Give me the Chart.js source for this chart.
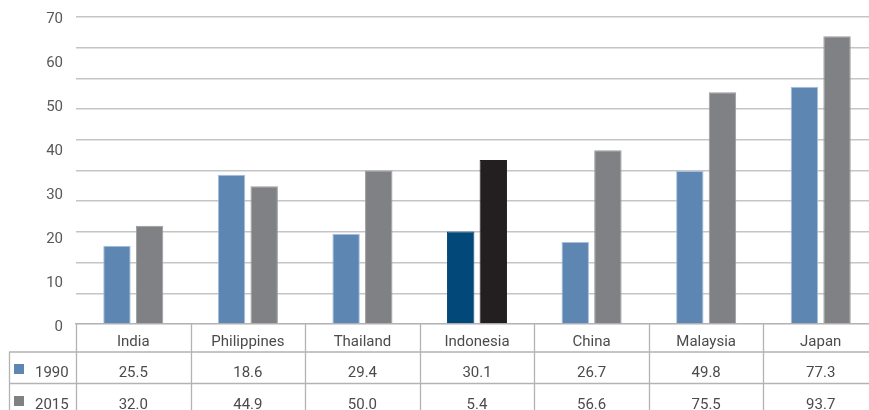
<!DOCTYPE html>
<html>
<head>
<meta charset="utf-8">
<title>1990 vs 2015</title>
<script src="https://cdn.jsdelivr.net/npm/chart.js@4.4.1/dist/chart.umd.min.js"></script>
<style>
  html, body { margin: 0; padding: 0; background: #fff; overflow: hidden; }
  .chart-wrap { position: relative; width: 880px; height: 410px; }
</style>
</head>
<body>
<div class="chart-wrap"><canvas id="countryChart"></canvas></div>
<script>
/* ============================================================
   Country comparison — grouped bars with a data table below
   ============================================================ */

const countries = ['India', 'Philippines', 'Thailand', 'Indonesia', 'China', 'Malaysia', 'Japan'];
const seriesNames = ['1990', '2015'];

// bar heights
const values1990 = [25.5, 48.6, 29.4, 30.1, 26.7, 49.8, 77.3];
const values2015 = [32.0, 44.9, 50.0, 53.4, 56.6, 75.5, 93.7];

// figures printed in the table rows
const table1990 = [25.5, 18.6, 29.4, 30.1, 26.7, 49.8, 77.3];
const table2015 = [32.0, 44.9, 50.0, 5.4, 56.6, 75.5, 93.7];

// left axis labels
const yTickLabels = [0, 10, 20, 30, 40, 50, 60, 70];

(function () {
  'use strict';

  const blue = '#5d86b3';
  const blueEdge = '#a6bfdb';
  const grey = '#808184';
  const greyEdge = '#9c9c9f';
  const navy = '#02497a';
  const black = '#231f20';
  const gridColor = '#c5c5c8';
  const lineColor = '#b3b3b6';
  const textColor = '#4b4b4d';
  const font = "Roboto, 'DejaVu Sans', sans-serif";
  const focus = countries.indexOf('Indonesia');

  const pick = (base, hi) => countries.map((c, i) => (i === focus ? hi : base));

  // data table under the x axis, aligned on the category scale
  const tablePlugin = {
    id: 'dataTable',
    afterDraw(chart) {
      const ctx = chart.ctx;
      const x = chart.scales.x;
      const top = chart.chartArea.bottom;
      const bottom = chart.height;
      const n = countries.length;
      const colW = (x.right - x.left) / n;
      const rowLeft = 9;
      const rows = [
        { top: 352, base: 376.5, label: seriesNames[0], color: blue, vals: table1990 },
        { top: 383.5, base: 408.5, label: seriesNames[1], color: grey, vals: table2015 }
      ];

      ctx.save();
      ctx.strokeStyle = lineColor;
      ctx.lineWidth = 1.3;
      ctx.beginPath();
      for (let i = 0; i <= n; i++) {
        const px = Math.round(x.left + i * colW) + 0.5;
        ctx.moveTo(px, top);
        ctx.lineTo(px, bottom);
      }
      ctx.moveTo(rowLeft + 0.5, rows[0].top);
      ctx.lineTo(rowLeft + 0.5, bottom);
      rows.forEach((r) => {
        ctx.moveTo(rowLeft, r.top);
        ctx.lineTo(x.right, r.top);
      });
      ctx.stroke();

      ctx.font = '15px ' + font;
      ctx.fillStyle = textColor;
      ctx.textBaseline = 'alphabetic';
      rows.forEach((r) => {
        ctx.fillStyle = r.color;
        ctx.fillRect(14, r.base - 12.5, 10, 10);
        ctx.fillStyle = textColor;
        ctx.textAlign = 'left';
        ctx.fillText(r.label, 35, r.base);
        ctx.textAlign = 'center';
        r.vals.forEach((v, i) => {
          ctx.fillText(v.toFixed(1), x.getPixelForValue(i), r.base);
        });
      });
      ctx.restore();
    }
  };

  new Chart(document.getElementById('countryChart'), {
    type: 'bar',
    data: {
      labels: countries,
      datasets: [
        {
          label: seriesNames[0],
          data: values1990,
          backgroundColor: pick(blue, navy),
          borderColor: pick(blueEdge, navy),
          borderWidth: 1
        },
        {
          label: seriesNames[1],
          data: values2015,
          backgroundColor: pick(grey, black),
          borderColor: pick(greyEdge, black),
          borderWidth: 1
        }
      ]
    },
    options: {
      responsive: true,
      maintainAspectRatio: false,
      animation: false,
      layout: { padding: { top: 17, right: 2, left: 0, bottom: 0 } },
      categoryPercentage: 0.57,
      barPercentage: 0.84,
      plugins: {
        legend: { display: false },
        tooltip: { enabled: false }
      },
      scales: {
        x: {
          grid: { display: false },
          border: { display: true, color: lineColor, width: 1.3 },
          ticks: {
            color: textColor,
            font: { family: font, size: 15 },
            padding: 1,
            maxRotation: 0
          },
          afterFit: (s) => { s.height = 86; s.paddingLeft = 0; s.paddingRight = 0; }
        },
        y: {
          position: 'left',
          min: 0,
          max: 100,
          ticks: { display: false, stepSize: 10 },
          grid: { color: gridColor, lineWidth: 1.5, drawTicks: false },
          border: { display: false },
          afterFit: (s) => { s.width = 0; s.paddingTop = 0; s.paddingBottom = 0; }
        },
        yLabels: {
          position: 'left',
          min: 0.7,
          max: 70.6,
          grid: { display: false, drawTicks: false },
          border: { display: false },
          ticks: {
            color: '#58585a',
            font: { family: font, size: 15 },
            padding: 13
          },
          afterBuildTicks: (s) => { s.ticks = yTickLabels.map((v) => ({ value: v })); },
          afterFit: (s) => { s.width = 76; s.paddingTop = 0; s.paddingBottom = 0; }
        }
      }
    },
    plugins: [tablePlugin]
  });
})();
</script>
</body>
</html>
